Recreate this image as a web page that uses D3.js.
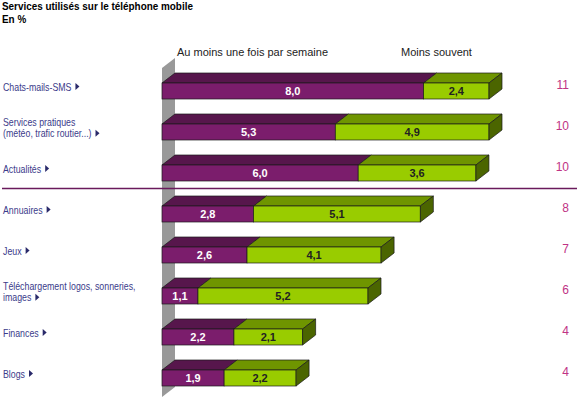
<!DOCTYPE html>
<html>
<head>
<meta charset="utf-8">
<script src="https://cdn.jsdelivr.net/npm/d3@7"></script>
<style>
body{margin:0;background:#fff;}
#canvas{width:580px;height:398px;}
</style>
</head>
<body>
<div id="canvas"></div>
<script>
var categories = [
	["Chats-mails-SMS"],
	["Services pratiques", "(météo, trafic routier...)"],
	["Actualités"],
	["Annuaires"],
	["Jeux"],
	["Téléchargement logos, sonneries,", "images"],
	["Finances"],
	["Blogs"]
];
var weekly = [8.0, 5.3, 6.0, 2.8, 2.6, 1.1, 2.2, 1.9];
var lessOften = [2.4, 4.9, 3.6, 5.1, 4.1, 5.2, 2.1, 2.2];
var totals = [11, 10, 10, 8, 7, 6, 4, 4];
var seriesNames = ["Au moins une fois par semaine", "Moins souvent"];

var width = 580, height = 398;
var barH = 16, dx = 13, dy = 10;
var regular = "Arial,'Liberation Sans',sans-serif";

var svg = d3.select("#canvas").append("svg")
	.attr("width", width).attr("height", height);

// texte "etroit" : pas de police etroite installee, on comprime la largeur
var narrowText = function(sel, f){
	var w = sel.node().getComputedTextLength() * f;
	sel.attr("textLength", w).attr("lengthAdjust", "spacingAndGlyphs");
	return w;
}

var keys = categories.map(function(c){ return c.join(" "); });
var y = d3.scalePoint().domain(keys).range([83, 370]);
var x = d3.scaleLinear().domain([0, 10]).range([162, 489]).clamp(true);

// titre
narrowText(svg.append("text").attr("x", 2).attr("y", 10)
	.style("font", "bold 11px " + regular).text("Services utilisés sur le téléphone mobile"), 0.9);
narrowText(svg.append("text").attr("x", 2).attr("y", 23)
	.style("font", "bold 11px " + regular).text("En %"), 0.9);

// en-tetes
svg.append("text").attr("x", 177).attr("y", 56)
	.style("font", "11px " + regular).attr("fill", "#222").text(seriesNames[0]);
svg.append("text").attr("x", 401).attr("y", 56)
	.style("font", "11px " + regular).attr("fill", "#222").text(seriesNames[1]);

// mur gris
var wTop = y(keys[0]) - 15, wBot = y(keys[keys.length-1]) + 27;
svg.append("polygon")
	.attr("points", [[x(0), wBot], [x(0), wTop], [x(0)+dx, wTop-dy], [x(0)+dx, wBot-dy]].join(" "))
	.attr("fill", "#999");

var cols = [
	{front:"#7b1d6c", top:"#57164c", side:"#3f0f37", txt:"#fff"},
	{front:"#99cc00", top:"#6f9500", side:"#4b6500", txt:"#222"}
];

keys.forEach(function(k, i){
	var top = y(k);
	var segs = [[0, weekly[i]], [weekly[i], weekly[i] + lessOften[i]]];
	var g = svg.append("g").attr("class", "bar");
	segs.forEach(function(s, j){
		var x0 = x(s[0]), x1 = x(s[1]);
		var c = cols[j];
		g.append("polygon")
			.attr("points", [[x0, top], [x0+dx, top-dy], [x1+dx, top-dy], [x1, top]].join(" "))
			.attr("fill", c.top).attr("stroke", "#1a1a1a").attr("stroke-width", 0.7);
		g.append("rect").attr("x", x0).attr("y", top).attr("width", x1 - x0).attr("height", barH)
			.attr("fill", c.front).attr("stroke", "#1a1a1a").attr("stroke-width", 0.7);
		if(j == segs.length - 1){
			g.append("polygon")
				.attr("points", [[x1, top], [x1+dx, top-dy], [x1+dx, top+barH-dy], [x1, top+barH]].join(" "))
				.attr("fill", c.side).attr("stroke", "#1a1a1a").attr("stroke-width", 0.7);
		}
		g.append("text").attr("x", (x0 + x1) / 2).attr("y", top + 12)
			.attr("text-anchor", "middle").attr("fill", c.txt)
			.style("font", "bold 11px " + regular)
			.text(d3.format(".1f")(j == 0 ? weekly[i] : lessOften[i]).replace(".", ","));
	});

	// libelle
	var lines = categories[i];
	var lh = 11.5;
	var b0 = top + 7.5 - (lines.length - 1) * lh / 2;
	var lab = svg.append("g").attr("class", "label");
	var lastW = 0;
	lines.forEach(function(l, n){
		lastW = narrowText(lab.append("text").attr("x", 3).attr("y", b0 + n * lh)
			.style("font", "11px " + regular).attr("fill", "#3b3b8a").text(l), 0.8);
	});
	var tx = 3 + lastW + 4;
	var ty = b0 + (lines.length - 1) * lh - 4;
	lab.append("polygon")
		.attr("points", [[tx, ty-3.5], [tx+4, ty], [tx, ty+3.5]].join(" "))
		.attr("fill", "#2a2a6a");

	// total
	svg.append("text").attr("x", 569).attr("y", top + 6)
		.attr("text-anchor", "end").attr("fill", "#c03385")
		.style("font", "12px " + regular).text(totals[i]);
});

// separateur
var sep = (y(keys[2]) + barH + y(keys[3]) - dy) / 2;
svg.append("line").attr("x1", 2).attr("x2", 577).attr("y1", sep).attr("y2", sep)
	.attr("stroke", "#6a1a5c").attr("stroke-width", 1.3);
</script>
</body>
</html>
